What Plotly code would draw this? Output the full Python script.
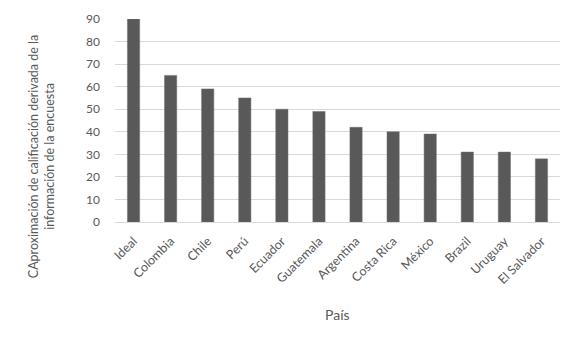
import plotly.graph_objects as go

countries = ["Ideal", "Colombia", "Chile", "Perú", "Ecuador", "Guatemala", "Argentina",
             "Costa Rica", "México", "Brazil", "Uruguay", "El Salvador"]
scores = [90, 65, 59, 55, 50, 49, 42, 40, 39, 31, 31, 28]
y_ticks = [0, 10, 20, 30, 40, 50, 60, 70, 80, 90]

FONT = "Lato, Open Sans, sans-serif"
GRAY = "#595959"

fig = go.Figure(go.Bar(x=countries, y=scores, marker=dict(color="#595959",
                line=dict(color="#6e6e6e", width=0.5))))

fig.update_layout(
    width=569, height=338,
    margin=dict(l=107, r=17, t=11, b=124),
    paper_bgcolor="white", plot_bgcolor="white",
    bargap=0.67,
    showlegend=False,
    font=dict(family=FONT, color=GRAY, size=12),
    xaxis=dict(tickangle=-45, showgrid=False, showline=True, linecolor="#d9d9d9",
               linewidth=1, ticks="", tickfont=dict(size=12.5, color=GRAY),
               ticklabelstandoff=6, automargin=False),
    yaxis=dict(range=[0, 90], tickvals=y_ticks, showgrid=True, gridcolor="#d9d9d9",
               gridwidth=1, zeroline=False, showline=False, ticks="",
               tickfont=dict(size=12, color=GRAY), ticklabelstandoff=14,
               automargin=False),
    annotations=[
        dict(text="CAproximación de calificación derivada de la<br>información de la encuesta",
             textangle=-90, xref="paper", yref="paper", x=-0.166, y=0.32,
             xanchor="center", yanchor="middle", showarrow=False,
             font=dict(size=12.5, color=GRAY, family=FONT)),
        dict(text="País", xref="paper", yref="paper", x=0.5, y=-0.455,
             xanchor="center", yanchor="middle", showarrow=False,
             font=dict(size=14, color=GRAY, family=FONT)),
    ],
)

fig.write_html("out.html")
